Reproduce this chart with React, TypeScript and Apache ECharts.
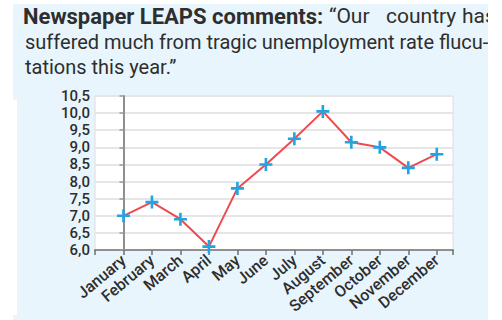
import React, { useEffect, useRef } from "react";
import * as echarts from "echarts";

const months = ["January", "February", "March", "April", "May", "June", "July", "August", "September", "October", "November", "December"];
const rates = [7.0, 7.4, 6.9, 6.1, 7.8, 8.5, 9.25, 10.05, 9.15, 9.0, 8.4, 8.8];
const titleBold = "Newspaper LEAPS comments:";
const titleLine1Words = ["\u201COur", "country", "has"];
const titleLine2 = "suffered much from tragic unemployment rate flucu-";
const titleLine3 = "tations this year.\u201D";

const FONT = "Roboto";
const PANEL = "#e9f5fc";
const TEXT = "#2e2e2e";

const normX = [329, 386, 462];

export default function App() {
  const ref = useRef<HTMLDivElement>(null);
  useEffect(() => {
    const chart = echarts.init(ref.current!, null, { renderer: "svg" });
    const titleTexts: any[] = [
      {
        type: "text", x: 23, y: 16, z: 5,
        style: { text: titleBold, fontFamily: FONT, fontSize: 22, fontWeight: "bold", fill: TEXT, verticalAlign: "middle" },
      },
    ];
    titleLine1Words.forEach((w, i) => {
      titleTexts.push({
        type: "text", x: normX[i], y: 16, z: 5,
        style: { text: w, fontFamily: FONT, fontSize: 21, fill: TEXT, verticalAlign: "middle" },
      });
    });
    chart.setOption({
      animation: false,
      backgroundColor: "#ffffff",
      graphic: [
        { type: "rect", z: -10, shape: { x: 13, y: 4, width: 475, height: 96 }, style: { fill: PANEL } },
        { type: "rect", z: -10, shape: { x: 17, y: 100, width: 471, height: 215 }, style: { fill: PANEL } },
        { type: "rect", z: -10, shape: { x: 13, y: 315, width: 475, height: 5 }, style: { fill: PANEL } },
        ...titleTexts,
        { type: "text", x: 25, y: 42, z: 5, style: { text: titleLine2, fontFamily: FONT, fontSize: 20, fill: TEXT, verticalAlign: "middle" } },
        { type: "text", x: 25, y: 67, z: 5, style: { text: titleLine3, fontFamily: FONT, fontSize: 20, fill: TEXT, verticalAlign: "middle" } },
        { type: "rect", z: 10, shape: { x: 488, y: 0, width: 14, height: 100 }, style: { fill: "#ffffff" } },
      ],
      grid: {
        left: 95, right: 49, top: 96, bottom: 70,
        show: true, backgroundColor: "#ffffff", borderColor: "#dcdcdc", borderWidth: 1,
      },
      xAxis: {
        type: "value",
        min: -1,
        max: 11.57,
        interval: 1,
        splitLine: { show: false },
        axisLine: { lineStyle: { color: "#8f8f8f", width: 2 } },
        axisTick: { length: 5, lineStyle: { color: "#6f6f6f", width: 1.5 } },
        axisLabel: {
          rotate: 40,
          margin: 8,
          fontFamily: FONT,
          fontSize: 16,
          fontWeight: 500,
          color: TEXT,
          showMinLabel: true,
          showMaxLabel: true,
          formatter: (v: number) => (Number.isInteger(v) && v >= 0 && v < months.length ? months[v] : ""),
        },
      },
      yAxis: {
        type: "value",
        min: 6,
        max: 10.5,
        interval: 0.5,
        axisLine: { show: true, lineStyle: { color: "#8f8f8f", width: 2 } },
        axisTick: { show: true, length: 4, lineStyle: { color: "#9a9a9a", width: 1.5 } },
        splitLine: { lineStyle: { color: "#e6e6e6", width: 2 } },
        axisLabel: {
          margin: 5,
          fontFamily: FONT,
          fontSize: 15,
          fontWeight: 500,
          color: TEXT,
          formatter: (v: number) => v.toFixed(1).replace(".", ","),
        },
      },
      series: [
        {
          type: "line",
          data: rates.map((v, i) => [i, v]),
          lineStyle: { color: "#ef4a50", width: 2 },
          symbol: "path://M4,0H6V4H10V6H6V10H4V6H0V4H4Z",
          symbolSize: 13,
          itemStyle: { color: "#22a3e2" },
          z: 5,
        },
      ],
    });
    return () => chart.dispose();
  }, []);
  return <div ref={ref} style={{ width: 502, height: 320, position: "absolute", left: 0, top: 0 }} />;
}
